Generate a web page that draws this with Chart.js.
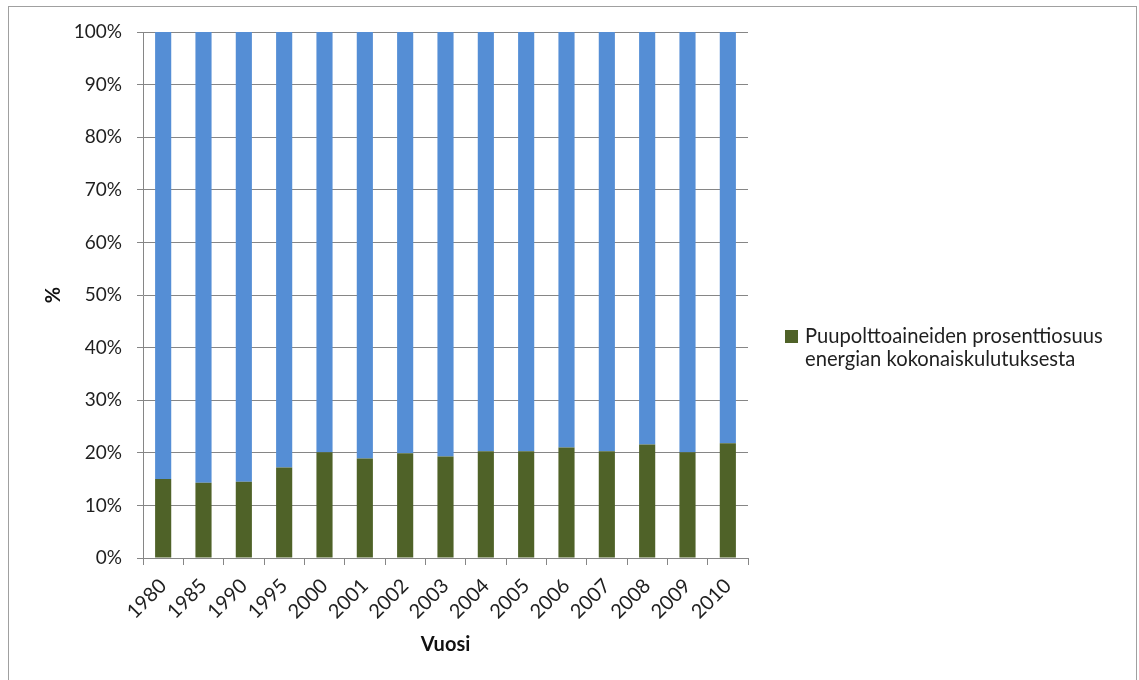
<!DOCTYPE html>
<html>
<head>
<meta charset="utf-8">
<script src="https://cdn.jsdelivr.net/npm/chart.js@4"></script>
<style>
  html, body { margin: 0; padding: 0; background: #fff; width: 1139px; height: 680px; overflow: hidden; }
  #frame { position: absolute; left: 8px; top: 6px; width: 1129px; height: 700px; border: 1px solid #a0a0a0; box-sizing: border-box; }
  #wrap { position: absolute; left: 0; top: 0; width: 1139px; height: 680px; }
  #legend { position: absolute; left: 785px; top: 324px; font-family: Lato, "Open Sans", sans-serif; font-size: 20.2px; line-height: 23px; color: #1f1f1f; }
  #legend .box { position: absolute; left: 0; top: 6px; width: 13px; height: 13px; background: #4F6228; }
  #legend .txt { margin-left: 20px; }
</style>
</head>
<body>
<div id="frame"></div>
<div id="wrap"><canvas id="c" width="1139" height="680"></canvas></div>
<div id="legend"><span class="box"></span><div class="txt">Puupolttoaineiden prosenttiosuus<br>energian kokonaiskulutuksesta</div></div>
<script>
const years = ["1980","1985","1990","1995","2000","2001","2002","2003","2004","2005","2006","2007","2008","2009","2010"];
const woodShare = [15.0, 14.3, 14.5, 17.2, 20.1, 18.9, 19.9, 19.3, 20.3, 20.3, 21.0, 20.3, 21.6, 20.1, 21.8];
const otherShare = [85.0, 85.7, 85.5, 82.8, 79.9, 81.1, 80.1, 80.7, 79.7, 79.7, 79.0, 79.7, 78.4, 79.9, 78.2];
const legendLabel = "Puupolttoaineiden prosenttiosuus energian kokonaiskulutuksesta";
const yTicks = [0, 10, 20, 30, 40, 50, 60, 70, 80, 90, 100];

const gridGray = '#868686';
const font = 'Lato';

new Chart(document.getElementById('c'), {
  type: 'bar',
  data: {
    labels: years,
    datasets: [
      { label: legendLabel, data: woodShare, backgroundColor: '#4F6228', categoryPercentage: 1, barPercentage: 0.4 },
      { label: 'Muut', data: otherShare, backgroundColor: '#558ED5', categoryPercentage: 1, barPercentage: 0.4 }
    ]
  },
  options: {
    responsive: false,
    animation: false,
    layout: { padding: { left: 30, right: 391, top: 32, bottom: 0 } },
    plugins: { legend: { display: false }, tooltip: { enabled: false } },
    scales: {
      x: {
        stacked: true,
        grid: { display: true, drawOnChartArea: false, drawTicks: true, tickLength: 7, color: gridGray, offset: true },
        border: { display: true, color: gridGray },
        ticks: { minRotation: 45, maxRotation: 45, autoSkip: false, padding: 9, color: '#1f1f1f', font: { family: font, size: 20 } },
        title: { display: true, text: 'Vuosi', color: '#111', font: { family: font, size: 20, weight: 'bold' }, padding: { top: 0, bottom: 23 } },
        afterFit: (s) => { s.height = 122; }
      },
      y: {
        stacked: true,
        min: 0, max: 100,
        afterBuildTicks: (s) => { s.ticks = yTicks.map(v => ({ value: v })); },
        grid: { color: gridGray, tickLength: 6, drawTicks: true },
        border: { display: true, color: gridGray },
        ticks: { padding: 15, color: '#1f1f1f', font: { family: font, size: 19 }, callback: (v) => v + '%' },
        title: { display: true, text: '%', color: '#111', font: { family: font, size: 20, weight: 'bold' }, padding: { top: 12, bottom: 0 } },
        afterFit: (s) => { s.width = 113; }
      }
    }
  }
});
</script>
</body>
</html>
